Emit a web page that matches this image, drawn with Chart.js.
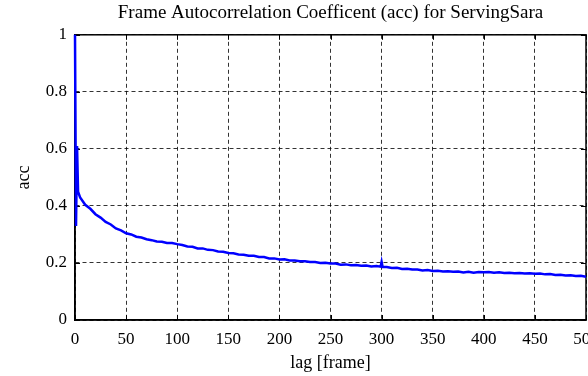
<!DOCTYPE html>
<html>
<head>
<meta charset="utf-8">
<script src="https://cdn.jsdelivr.net/npm/chart.js@4.4.0/dist/chart.umd.min.js"></script>
<style>
  html, body { margin: 0; padding: 0; background: #fff; overflow: hidden; }
  #wrap { width: 588px; height: 376px; }
</style>
</head>
<body>
<div id="wrap"><canvas id="accChart" width="588" height="376"></canvas></div>
<script>
// values
const chartTitle = 'Frame Autocorrelation Coefficent (acc) for ServingSara';
const xTitle = 'lag [frame]';
const yTitle = 'acc';
const xTicks = [0, 50, 100, 150, 200, 250, 300, 350, 400, 450, 500];
const yTicks = [0, 0.2, 0.4, 0.6, 0.8, 1];

const lags = [0, 1, 2, 3, 5, 10, 15, 20, 25, 30, 35, 40, 45, 50, 55, 60, 65, 70, 75, 80, 85, 90, 95,
  100, 105, 110, 115, 120, 125, 130, 135, 140, 145, 150, 155, 160, 165, 170, 175, 180, 185, 190, 195,
  200, 205, 210, 215, 220, 225, 230, 235, 240, 245, 250, 255, 260, 265, 270, 275, 280, 285, 290, 295,
  299, 300, 301, 305, 310, 315, 320, 325, 330, 335, 340, 345, 350, 355, 360, 365, 370, 375, 380, 385,
  390, 395, 400, 405, 410, 415, 420, 425, 430, 435, 440, 445, 450, 455, 460, 465, 470, 475, 480, 485,
  490, 495, 500];
const acc = [1.0, 0.33, 0.61, 0.45, 0.430, 0.404, 0.390, 0.371, 0.359, 0.344, 0.335, 0.321, 0.314, 0.304, 0.300, 0.292, 0.289, 0.283, 0.280, 0.275, 0.274, 0.270, 0.270,
  0.266, 0.263, 0.258, 0.257, 0.251, 0.251, 0.246, 0.245, 0.240, 0.239, 0.235, 0.234, 0.230, 0.229, 0.225, 0.225, 0.221, 0.221, 0.216, 0.216,
  0.212, 0.213, 0.209, 0.209, 0.206, 0.206, 0.203, 0.203, 0.200, 0.201, 0.198, 0.198, 0.194, 0.195, 0.192, 0.193, 0.190, 0.191, 0.188, 0.189,
  0.187, 0.204, 0.186, 0.186, 0.182, 0.183, 0.179, 0.180, 0.177, 0.177, 0.174, 0.175, 0.172, 0.173, 0.170, 0.171, 0.169, 0.170, 0.167, 0.169,
  0.166, 0.168, 0.167, 0.168, 0.166, 0.167, 0.165, 0.166, 0.164, 0.165, 0.163, 0.164, 0.162, 0.163, 0.160, 0.161, 0.158, 0.159, 0.156, 0.157,
  0.154, 0.155, 0.152];

const serif = "'Liberation Serif', 'DejaVu Serif', serif";

// solid frame round the plot plus small inside ticks, like the matlab box
const boxPlugin = {
  id: 'boxPlugin',
  beforeDatasetsDraw(chart) {
    const { ctx, chartArea: a, scales } = chart;
    ctx.save();
    ctx.strokeStyle = '#000';
    ctx.lineWidth = 1.5;
    ctx.strokeRect(a.left, a.top, a.right - a.left, a.bottom - a.top);
    ctx.lineWidth = 1;
    const len = 5;
    ctx.beginPath();
    xTicks.forEach((v) => {
      const x = Math.round(scales.x.getPixelForValue(v)) + 0.5;
      ctx.moveTo(x, a.bottom); ctx.lineTo(x, a.bottom - len);
      ctx.moveTo(x, a.top); ctx.lineTo(x, a.top + len);
    });
    yTicks.forEach((v) => {
      const y = Math.round(scales.y.getPixelForValue(v)) + 0.5;
      ctx.moveTo(a.left, y); ctx.lineTo(a.left + len, y);
      ctx.moveTo(a.right, y); ctx.lineTo(a.right - len, y);
    });
    ctx.stroke();
    ctx.restore();
  }
};

const points = lags.map((l, i) => ({ x: l, y: acc[i] }));

new Chart(document.getElementById('accChart'), {
  type: 'line',
  data: {
    datasets: [{
      data: points,
      borderColor: '#0000ff',
      borderWidth: 2.5,
      pointRadius: 0,
      tension: 0,
      clip: false
    }]
  },
  options: {
    responsive: false,
    animation: false,
    layout: { padding: { left: 0, right: 2, top: 0, bottom: 0 } },
    plugins: {
      legend: { display: false },
      tooltip: { enabled: false },
      title: {
        display: true,
        text: chartTitle,
        fullSize: false,
        color: '#000',
        font: { family: serif, size: 19, weight: 'normal' },
        padding: { top: 2, bottom: 10 }
      }
    },
    scales: {
      x: {
        type: 'linear',
        min: 0,
        max: 500,
        afterBuildTicks: (s) => { s.ticks = xTicks.map((v) => ({ value: v })); },
        afterFit: (s) => { s.height = 56; s.paddingLeft = 0; s.paddingRight = 0; },
        ticks: { color: '#000', padding: 9, maxRotation: 0, font: { family: serif, size: 17 } },
        grid: { color: 'rgba(0,0,0,0.8)', lineWidth: 1, drawTicks: false },
        border: { display: true, color: '#000', width: 1.5, dash: [4, 3] },
        title: { display: true, text: xTitle, color: '#000', font: { family: serif, size: 18 }, padding: { top: 0, bottom: 2 } }
      },
      y: {
        min: 0,
        max: 1,
        afterBuildTicks: (s) => { s.ticks = yTicks.map((v) => ({ value: v })); },
        afterFit: (s) => { s.width = 75; s.paddingTop = 0; s.paddingBottom = 0; },
        ticks: { color: '#000', padding: 8, font: { family: serif, size: 17 }, callback: (v) => String(v) },
        grid: { color: 'rgba(0,0,0,0.8)', lineWidth: 1, drawTicks: false },
        border: { display: true, color: '#000', width: 1.5, dash: [4, 3] },
        title: { display: true, text: yTitle, color: '#000', font: { family: serif, size: 18 }, padding: { top: 13, bottom: 0 } }
      }
    }
  },
  plugins: [boxPlugin]
});
</script>
</body>
</html>
